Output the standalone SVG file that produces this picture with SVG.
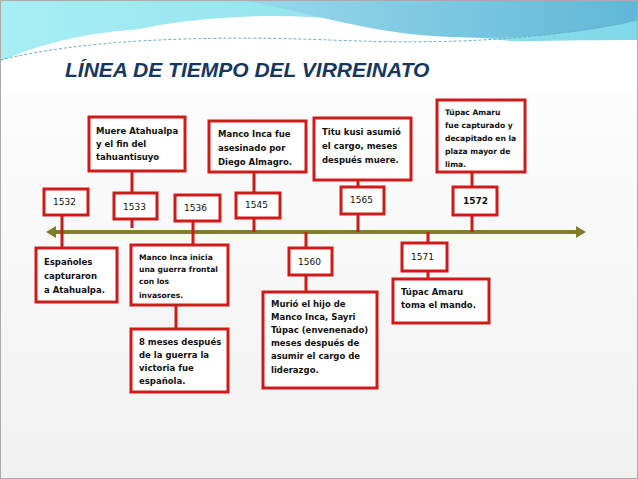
<svg xmlns="http://www.w3.org/2000/svg" width="638" height="479" viewBox="0 0 638 479">
<defs>
<style>
.b{fill:#fff;stroke:#d01a1a;stroke-width:3}
.s{stroke:#d01a1a;stroke-width:3;fill:none}
.t{font-family:"DejaVu Sans",sans-serif;font-size:8.5px;font-weight:bold;fill:#111}
.u{font-family:"DejaVu Sans",sans-serif;font-size:7.6px;font-weight:bold;fill:#111}
.y{font-family:"DejaVu Sans",sans-serif;font-size:9px;fill:#111}
</style>
<linearGradient id="bg" x1="0" y1="0" x2="0" y2="1"><stop offset="0" stop-color="#ffffff"/><stop offset="1" stop-color="#f1f1f1"/></linearGradient>
<linearGradient id="g1" x1="0" y1="0" x2="1" y2="0"><stop offset="0" stop-color="#a8eef4"/><stop offset="1" stop-color="#7fd8e8"/></linearGradient>
<linearGradient id="g2" x1="0" y1="0" x2="1" y2="0"><stop offset="0" stop-color="#9ad8ec"/><stop offset="1" stop-color="#5fb8d8"/></linearGradient>
</defs>
<rect width="638" height="479" fill="url(#bg)"/>
<path d="M0 0H638V50C560 45 480 40 420 30C340 15 250 10 160 25C90 38 30 55 0 80Z" fill="url(#g1)"/>
<path d="M0 62C40 42 100 30 160 28C250 24 330 40 400 42C460 44 520 40 638 40V95H0Z" fill="#fff"/>
<path d="M240 0H638V20C580 35 500 42 420 35C350 28 300 10 240 0Z" fill="url(#g2)"/>
<path d="M0 60C80 40 200 35 330 40C450 45 540 40 638 20" stroke="#6fb0c0" stroke-width="1" stroke-dasharray="3 2" fill="none"/>
<text x="65" y="77" font-family="Liberation Sans,sans-serif" font-size="21" font-weight="bold" font-style="italic" fill="#17375e">LÍNEA DE TIEMPO DEL VIRREINATO</text>
<rect x="0.5" y="0.5" width="637" height="478" fill="none" stroke="#aaa" stroke-width="1"/>

<g id="connectors">
<line x1="52" y1="232" x2="578" y2="232" stroke="#7f7f2a" stroke-width="4"/>
<path d="M46 232L56 226V238Z" fill="#7f7f2a"/>
<path d="M586 232L576 226V238Z" fill="#7f7f2a"/>
<path class="s" d="M62 215V248M132 171V193M132 219V228M193 221V245M176 305V329M254 172V193M254 218V232M358 180V187M358 214V232M472 172V187M472 215V232M306 232V248M306 275V292M428 232V243M428 271V279"/>
</g>

<g id="y1532"><rect class="b" x="44" y="189" width="44" height="26"/><text class="y" x="53" y="205">1532</text></g>
<g id="y1533"><rect class="b" x="114" y="193" width="43" height="26"/><text class="y" x="123" y="210">1533</text></g>
<g id="y1536"><rect class="b" x="175" y="195" width="45" height="26"/><text class="y" x="184" y="211">1536</text></g>
<g id="y1545"><rect class="b" x="236" y="193" width="44" height="25"/><text class="y" x="245" y="208">1545</text></g>
<g id="y1565"><rect class="b" x="341" y="187" width="43" height="27"/><text class="y" x="350" y="203">1565</text></g>
<g id="y1572"><rect class="b" x="453" y="187" width="44" height="28"/><text class="y" x="463" y="204" font-weight="bold">1572</text></g>
<g id="y1560"><rect class="b" x="289" y="248" width="43" height="27"/><text class="y" x="298" y="265">1560</text></g>
<g id="y1571"><rect class="b" x="402" y="243" width="45" height="28"/><text class="y" x="411" y="260">1571</text></g>

<g id="muere"><rect class="b" x="89" y="117" width="96" height="54"/><text class="t" x="96" y="134">Muere Atahualpa</text><text class="t" x="96" y="147">y el fin del</text><text class="t" x="96" y="160">tahuantisuyo</text></g>
<g id="manco-fue"><rect class="b" x="209" y="121" width="97" height="51"/><text class="t" x="218" y="137">Manco Inca fue</text><text class="t" x="218" y="151">asesinado por</text><text class="t" x="218" y="165">Diego Almagro.</text></g>
<g id="titu"><rect class="b" x="314" y="118" width="97" height="62"/><text class="t" x="322" y="135">Titu kusi asumió</text><text class="t" x="322" y="149">el cargo, meses</text><text class="t" x="322" y="163">después muere.</text></g>
<g id="tupac-cap"><rect class="b" x="437" y="100" width="88" height="72"/><text class="u" x="445" y="115">Túpac Amaru</text><text class="u" x="445" y="128">fue capturado y</text><text class="u" x="445" y="141">decapitado en la</text><text class="u" x="445" y="154">plaza mayor de</text><text class="u" x="445" y="167">lima.</text></g>
<g id="espanoles"><rect class="b" x="36" y="248" width="81" height="54"/><text class="t" x="44" y="265">Españoles</text><text class="t" x="44" y="279">capturaron</text><text class="t" x="44" y="293">a Atahualpa.</text></g>
<g id="manco-inicia"><rect class="b" x="131" y="245" width="97" height="60"/><text class="u" x="139" y="260">Manco Inca inicia</text><text class="u" x="139" y="272">una guerra frontal</text><text class="u" x="139" y="284">con los</text><text class="u" x="139" y="298">invasores.</text></g>
<g id="ocho"><rect class="b" x="131" y="329" width="97" height="63"/><text class="t" x="139" y="345">8 meses después</text><text class="t" x="139" y="358">de la guerra la</text><text class="t" x="139" y="371">victoria fue</text><text class="t" x="139" y="384">española.</text></g>
<g id="murio"><rect class="b" x="263" y="292" width="114" height="96"/><text class="t" x="271" y="307">Murió el hijo de</text><text class="t" x="271" y="320">Manco Inca, Sayri</text><text class="t" x="271" y="333">Túpac (envenenado)</text><text class="t" x="271" y="346">meses después de</text><text class="t" x="271" y="359">asumir el cargo de</text><text class="t" x="271" y="373">liderazgo.</text></g>
<g id="tupac-toma"><rect class="b" x="393" y="279" width="96" height="44"/><text class="t" x="401" y="295">Túpac Amaru</text><text class="t" x="401" y="308">toma el mando.</text></g>
</svg>
